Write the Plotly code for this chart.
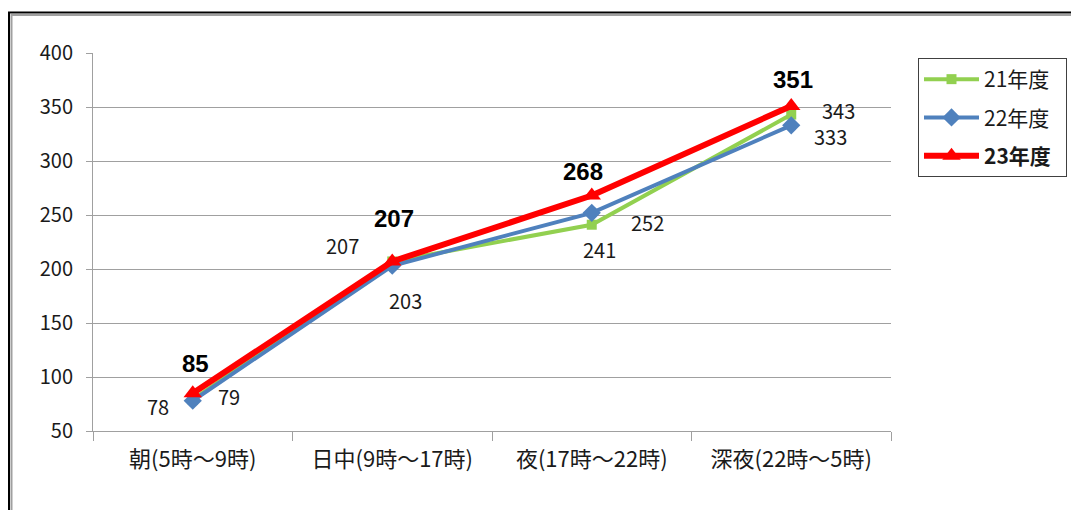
import plotly.graph_objects as go

categories = ["朝(5時～9時)", "日中(9時～17時)", "夜(17時～22時)", "深夜(22時～5時)"]
fy21 = [79, 207, 241, 343]
fy22 = [78, 203, 252, 333]
fy23 = [85, 207, 268, 351]
series_names = ["21年度", "22年度", "<b>23年度</b>"]
y_ticks = [50, 100, 150, 200, 250, 300, 350, 400]

# label offsets in pixels (dx, dy with dy positive = up)
off21 = [(36, 3), (-50, 16), (8, -25), (47, 4)]
off22 = [(-35, -6), (13, -35), (56, -10), (39, -11)]
off23 = [(3, 30), (2, 43), (-9, 24), (2, 26)]

FONT = "Noto Sans CJK JP"
# the page body has an 8px margin: figure is sized/shifted to compensate
W, H, OFF = 1071, 502, 8
PL, PR, PT, PB = 93, 891, 53, 431   # plot area in page pixels
PW, PH = PR - PL, PB - PT

def px(xp):
    return (xp - PL) / PW

def py(yp):
    return (PB - yp) / PH

PAD = "\u00a0\u00a0"
fig = go.Figure()
fig.add_trace(go.Scatter(x=categories, y=fy21, name=series_names[0] + PAD, mode="lines+markers",
                         line=dict(color="#92D050", width=4),
                         marker=dict(symbol="square", size=10, color="#92D050"),
                         legendgroup="a"))
fig.add_trace(go.Scatter(x=categories, y=fy22, name=series_names[1] + PAD, mode="lines+markers",
                         line=dict(color="#4F81BD", width=4),
                         marker=dict(symbol="diamond", size=14, color="#4F81BD"),
                         legendgroup="b"))
fig.add_trace(go.Scatter(x=categories, y=fy23, name=series_names[2] + PAD, mode="lines+markers",
                         line=dict(color="#FF0000", width=6),
                         marker=dict(symbol="triangle-up", size=16, color="#FF0000"),
                         legendgroup="c"))

for vals, offs, bold in [(fy21, off21, False), (fy22, off22, False), (fy23, off23, True)]:
    for c, v, (dx, dy) in zip(categories, vals, offs):
        fig.add_annotation(x=c, y=v, text=(f"<b>{v}</b>" if bold else str(v)),
                           showarrow=False, xshift=dx, yshift=dy,
                           font=dict(family="Liberation Sans" if bold else FONT,
                                     size=24 if bold else 20,
                                     color="#000000" if bold else "#1a1a1a"))

# chart frame (black outer, gray inner)
fig.add_shape(type="rect", xref="paper", yref="paper",
              x0=px(9), x1=px(1100), y0=py(530), y1=py(12.5),
              line=dict(color="#000000", width=2))
fig.add_shape(type="rect", xref="paper", yref="paper",
              x0=px(11.5), x1=px(1100), y0=py(530), y1=py(15),
              line=dict(color="#A0A0A0", width=2))

fig.update_layout(
    width=W, height=H,
    margin=dict(l=PL - OFF, r=W - (PR - OFF), t=PT - OFF, b=H - (PB - OFF)),
    paper_bgcolor="white", plot_bgcolor="white",
    font=dict(family=FONT, size=20, color="#1a1a1a"),
    showlegend=True,
    legend=dict(x=px(918), y=py(58), xanchor="left", yanchor="top",
                bgcolor="white", bordercolor="#404040", borderwidth=1,
                font=dict(family=FONT, size=21, color="#1a1a1a"),
                tracegroupgap=8, itemwidth=55),
    xaxis=dict(type="category", range=[-0.5, 3.5], showgrid=False, showline=True,
               linecolor="#A0A0A0", linewidth=1,
               ticks="outside", ticklen=9, tickcolor="#A0A0A0", tickson="boundaries",
               tickfont=dict(family=FONT, size=22, color="#1a1a1a"), ticklabelstandoff=9,
               zeroline=False),
    yaxis=dict(range=[50, 400], tickvals=y_ticks, showgrid=True, gridcolor="#A0A0A0", gridwidth=1,
               showline=True, linecolor="#A0A0A0", linewidth=1, ticks="outside", ticklen=6,
               tickcolor="#A0A0A0", tickfont=dict(family=FONT, size=20, color="#1a1a1a"),
               ticklabelstandoff=9, zeroline=False),
)

fig.write_html("out.html")
